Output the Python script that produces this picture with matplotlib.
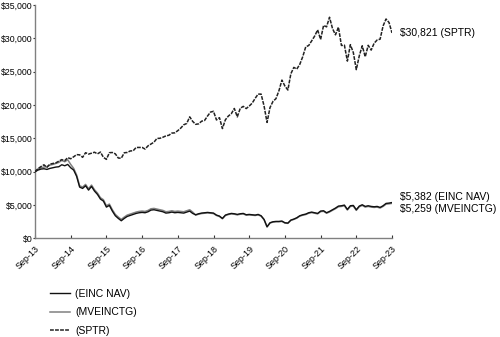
import matplotlib
matplotlib.use("Agg")
import matplotlib.pyplot as plt
from matplotlib.ticker import FuncFormatter

# monthly growth of $10,000, Sep-13 .. Sep-23
einc_nav = [10000, 10250, 10400, 10450, 10350, 10500, 10600, 10700, 10750, 11050, 10900, 11100,
            10600, 10250, 9300, 7700, 7500, 7900, 7250, 7800, 7100, 6600, 5900, 5600,
            4700, 4950, 4100, 3400, 3000, 2650, 3000, 3300, 3450, 3600, 3750, 3850,
            3900, 3850, 4000, 4250, 4300, 4200, 4100, 4000, 3800, 3850, 3950, 3850,
            3900, 3850, 3800, 3950, 4100, 3750, 3550, 3700, 3800, 3850, 3900, 3850,
            3800, 3500, 3350, 3000, 3500, 3650, 3750, 3700, 3600, 3700, 3750, 3550,
            3600, 3550, 3500, 3600, 3400, 2850, 1750, 2350, 2500, 2550, 2550, 2600,
            2350, 2300, 2750, 2900, 3100, 3400, 3550, 3650, 3850, 3950, 3850, 3750,
            4100, 4150, 3850, 4050, 4300, 4550, 4850, 4900, 5000, 4350, 4900, 4950,
            4300, 4850, 5050, 4800, 4900, 4800, 4750, 4800, 4650, 4900, 5250, 5300,
            5382]
mveinctg = [10000, 10400, 10600, 10700, 10750, 11000, 11100, 11250, 11400, 11700, 11500, 11800,
            11100, 10500, 9500, 7900, 7700, 8100, 7450, 8000, 7300, 6800, 6100, 5800,
            4900, 5150, 4300, 3600, 3200, 2850, 3200, 3500, 3650, 3800, 3950, 4050,
            4100, 4050, 4200, 4450, 4500, 4400, 4300, 4200, 4000, 4050, 4150, 4050,
            4100, 4050, 4000, 4150, 4300, 3950, 3490, 3630, 3730, 3780, 3830, 3780,
            3730, 3440, 3290, 2950, 3440, 3580, 3680, 3630, 3530, 3630, 3680, 3490,
            3530, 3490, 3440, 3530, 3340, 2800, 1720, 2310, 2450, 2500, 2500, 2550,
            2310, 2260, 2700, 2850, 3040, 3340, 3480, 3580, 3780, 3870, 3780, 3680,
            4020, 4070, 3780, 3970, 4220, 4460, 4750, 4800, 4900, 4260, 4800, 4850,
            4210, 4750, 4950, 4700, 4800, 4700, 4650, 4700, 4560, 4800, 5140, 5190,
            5259]
sptr = [10000, 10463, 10771, 11040, 10667, 11140, 11236, 11325, 11584, 11820, 11664, 12118,
        11949, 12247, 12570, 12535, 12165, 12855, 12650, 12780, 12929, 12680, 12952, 12158,
        11857, 12858, 12885, 12683, 12057, 12026, 12843, 12895, 13115, 13149, 13641, 13644,
        13647, 13403, 13886, 14161, 14437, 15000, 15018, 15176, 15378, 15473, 15798, 15836,
        16164, 16549, 17045, 17240, 18237, 17554, 17110, 17182, 17579, 17693, 18359, 18951,
        19061, 17767, 18111, 16476, 17799, 18356, 18714, 19485, 18232, 19522, 19804, 19477,
        19848, 20287, 21008, 21645, 21646, 19852, 17401, 19633, 20556, 20966, 22158, 23747,
        22853, 22258, 24693, 25647, 25400, 26106, 27259, 28730, 28936, 29629, 30345, 31280,
        29838, 31947, 31733, 33169, 31478, 30538, 31678, 28939, 28985, 26594, 29062, 27876,
        25315, 27378, 28895, 27236, 28963, 28248, 29283, 29758, 29883, 31865, 32911, 32382,
        30821]
tick_labels = ["Sep-13", "Sep-14", "Sep-15", "Sep-16", "Sep-17", "Sep-18",
               "Sep-19", "Sep-20", "Sep-21", "Sep-22", "Sep-23"]
end_labels = ["$5,382 (EINC NAV)", "$5,259 (MVEINCTG)", "$30,821 (SPTR)"]

plt.rcParams['font.family'] = ['Liberation Sans', 'DejaVu Sans']

fig = plt.figure(figsize=(5, 3.37), dpi=100)
ax = fig.add_axes([0.07, 0.2925, 0.714, 0.6925])

x = list(range(len(sptr)))
l2, = ax.plot(x, mveinctg, color='#808080', lw=1.1, zorder=2)
l1, = ax.plot(x, einc_nav, color='#111111', lw=1.0, zorder=3)
l3, = ax.plot(x, sptr, color='#222222', lw=1.1, linestyle=(0, (2.5, 0.8)), zorder=4)

ax.set_xlim(0, 120)
ax.set_ylim(0, 35000)
ax.set_yticks(range(0, 35001, 5000))
ax.yaxis.set_major_formatter(FuncFormatter(lambda v, p: f"${v:,.0f}"))
ax.set_xticks(range(0, 121, 12))
ax.set_xticklabels(tick_labels, rotation=45, ha='right', va='top', rotation_mode='anchor')

for s in ['top', 'right']:
    ax.spines[s].set_visible(False)
for s in ['left', 'bottom']:
    ax.spines[s].set_color('#808080')
    ax.spines[s].set_linewidth(1.0)
ax.tick_params(axis='y', direction='out', length=1.5, width=0.8, color='#333333',
               labelsize=6.3, pad=0.5)
ax.tick_params(axis='x', direction='in', length=2.5, width=0.8, color='#333333',
               labelsize=6.5, pad=4)

# end-value labels right of the plot
fig.text(400 / 500, 1 - 197.5 / 337, end_labels[0], fontsize=7.5, va='center', ha='left')
fig.text(400 / 500, 1 - 209.5 / 337, end_labels[1], fontsize=7.5, va='center', ha='left')
fig.text(400 / 500, 1 - 33 / 337, end_labels[2], fontsize=7.5, va='center', ha='left')

fig.legend([l1, l2, l3], ["(EINC NAV)", "(MVEINCTG)", "(SPTR)"],
           loc='upper left', bbox_to_anchor=(0.1, 1 - 289 / 337), frameon=False,
           fontsize=7.5, handlelength=1.9, handletextpad=0.5, labelspacing=0.8,
           borderaxespad=0, borderpad=0)

fig.savefig("out.png", dpi=100)
